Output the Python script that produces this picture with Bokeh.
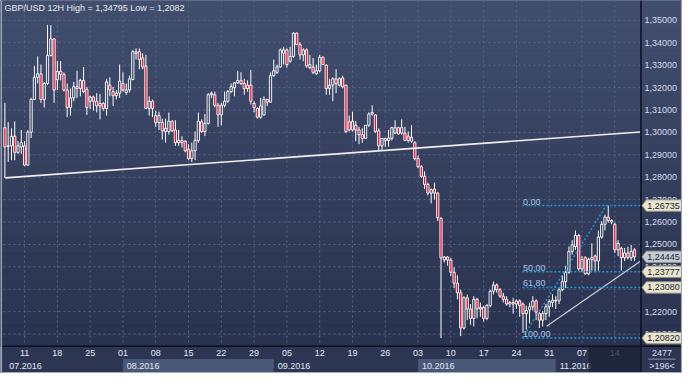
import numpy as np
from bokeh.plotting import figure
from bokeh.models import Range1d, ColumnDataSource
from bokeh.embed import file_html
from bokeh.resources import INLINE
from bokeh.core.properties import value

# ---------------- data (GBP/USD 12H) ----------------
opens = [
 1.3021,1.2936,1.2940,1.2983,1.2911,1.2935,1.2940,1.2854,1.3001,1.3147,
 1.3246,1.3261,1.3147,1.3218,1.3343,1.3417,1.3235,1.3272,1.3258,1.3189,
 1.3111,1.3154,1.3204,1.3196,1.3232,1.3192,1.3139,1.3158,1.3139,1.3118,
 1.3129,1.3107,1.3211,1.3182,1.3164,1.3175,1.3218,1.3178,1.3189,1.3236,
 1.3353,1.3360,1.3332,1.3296,1.3107,1.3139,1.3075,1.3044,1.3044,1.3004,
 1.3004,1.3050,1.3011,1.2954,1.2964,1.2961,1.2925,1.2883,1.2918,1.2964,
 1.3047,1.3004,1.3040,1.3168,1.3168,1.3121,1.3078,1.3121,1.3139,1.3182,
 1.3199,1.3221,1.3232,1.3218,1.3211,1.3211,1.3129,1.3107,1.3068,1.3078,
 1.3147,1.3135,1.3253,1.3268,1.3292,1.3353,1.3368,1.3318,1.3339,1.3443,
 1.3392,1.3346,1.3368,1.3289,1.3292,1.3261,1.3275,1.3335,1.3300,1.3196,
 1.3211,1.3239,1.3211,1.3243,1.3211,1.3047,1.3011,1.3032,1.3011,1.2990,
 1.2973,1.3032,1.3082,1.3078,1.3007,1.2940,1.2964,1.2975,1.2973,1.2997,
 1.3021,1.2997,1.2997,1.2983,1.2961,1.2954,1.2883,1.2847,1.2804,1.2768,
 1.2729,1.2747,1.2729,1.2616,1.2431,1.2444,1.2430,1.2376,1.2327,1.2284,
 1.2127,1.2262,1.2212,1.2170,1.2255,1.2212,1.2219,1.2170,1.2227,1.2291,
 1.2319,1.2298,1.2269,1.2255,1.2234,1.2241,1.2234,1.2248,1.2234,1.2191,
 1.2208,1.2222,1.2248,1.2191,1.2162,1.2191,1.2222,1.2241,1.2251,1.2248,
 1.2298,1.2334,1.2376,1.2469,1.2490,1.2540,1.2391,1.2441,1.2369,1.2433,
 1.2448,1.2426,1.2533,1.2590,1.2622,1.2600,1.2590,1.2476,1.2483,1.2441,
 1.2462,1.2441,1.2476]
highs = [
 1.3132,1.3046,1.3018,1.3049,1.2961,1.3011,1.2961,1.3011,1.3154,1.3296,
 1.3339,1.3303,1.3225,1.34795,1.3479,1.3420,1.3318,1.3318,1.3268,1.3218,
 1.3196,1.3225,1.3275,1.3239,1.3292,1.3203,1.3164,1.3164,1.3175,1.3172,
 1.3135,1.3239,1.3246,1.3203,1.3189,1.3303,1.3268,1.3218,1.3253,1.3368,
 1.3375,1.3375,1.3353,1.3346,1.3161,1.3146,1.3097,1.3092,1.3061,1.3061,
 1.3089,1.3054,1.3054,1.3011,1.2983,1.2964,1.2947,1.2954,1.3004,1.3089,
 1.3058,1.3082,1.3175,1.3182,1.3182,1.3132,1.3132,1.3182,1.3189,1.3218,
 1.3225,1.3275,1.3268,1.3239,1.3232,1.3279,1.3139,1.3111,1.3154,1.3161,
 1.3150,1.3268,1.3325,1.3303,1.3375,1.3382,1.3375,1.3382,1.3446,1.3446,
 1.3403,1.3375,1.3375,1.3346,1.3332,1.3303,1.3346,1.3339,1.3303,1.3239,
 1.3246,1.3282,1.3246,1.3253,1.3211,1.3075,1.3092,1.3050,1.3025,1.3018,
 1.3032,1.3089,1.3121,1.3082,1.3018,1.2975,1.2976,1.3011,1.3025,1.3054,
 1.3025,1.3058,1.3025,1.3004,1.3032,1.2961,1.2897,1.2854,1.2826,1.2776,
 1.2750,1.2776,1.2733,1.2622,1.2448,1.2448,1.2440,1.2398,1.2362,1.2298,
 1.2269,1.2276,1.2234,1.2269,1.2262,1.2241,1.2227,1.2234,1.2298,1.2334,
 1.2326,1.2305,1.2284,1.2269,1.2248,1.2262,1.2255,1.2255,1.2241,1.2227,
 1.2241,1.2269,1.2255,1.2198,1.2202,1.2234,1.2255,1.2277,1.2269,1.2305,
 1.2362,1.2405,1.2491,1.2519,1.2562,1.2547,1.2448,1.2448,1.2441,1.2505,
 1.2455,1.2562,1.2604,1.2633,1.26735,1.2612,1.2597,1.2519,1.2490,1.2484,
 1.2490,1.2498,1.2484]
lows = [
 1.2797,1.2868,1.2876,1.2876,1.2904,1.2904,1.2850,1.2850,1.2975,1.3144,
 1.3218,1.3132,1.3111,1.3211,1.3339,1.3132,1.3189,1.3232,1.3182,1.3068,
 1.3075,1.3139,1.3154,1.3161,1.3175,1.3078,1.3104,1.3097,1.3089,1.3058,
 1.3097,1.3075,1.3161,1.3118,1.3147,1.3154,1.3182,1.3168,1.3178,1.3232,
 1.3325,1.3282,1.3282,1.3104,1.3075,1.3068,1.3025,1.3011,1.2968,1.2954,
 1.2990,1.3001,1.2940,1.2940,1.2933,1.2911,1.2876,1.2868,1.2876,1.2954,
 1.2997,1.2983,1.3035,1.3154,1.3111,1.3025,1.3032,1.3111,1.3132,1.3175,
 1.3161,1.3218,1.3211,1.3168,1.3182,1.3125,1.3089,1.3061,1.3061,1.3075,
 1.3118,1.3132,1.3249,1.3261,1.3289,1.3303,1.3289,1.3311,1.3332,1.3389,
 1.3325,1.3318,1.3289,1.3282,1.3261,1.3258,1.3268,1.3300,1.3168,1.3168,
 1.3139,1.3175,1.3204,1.3196,1.2997,1.3004,1.3004,1.2961,1.2947,1.2954,
 1.2973,1.3025,1.3075,1.2997,1.2918,1.2918,1.2935,1.2936,1.2964,1.2993,
 1.2990,1.2990,1.2961,1.2954,1.2954,1.2875,1.2840,1.2797,1.2747,1.2719,
 1.2683,1.2701,1.2605,1.2082,1.2419,1.2405,1.2359,1.2305,1.2255,1.2091,
 1.2120,1.2162,1.2141,1.2134,1.2170,1.2177,1.2155,1.2162,1.2219,1.2277,
 1.2284,1.2262,1.2241,1.2227,1.2220,1.2191,1.2212,1.2177,1.2106,1.2120,
 1.2148,1.2205,1.2162,1.2127,1.2134,1.2162,1.2177,1.2220,1.2212,1.2234,
 1.2291,1.2305,1.2369,1.2455,1.2476,1.2383,1.2376,1.2365,1.2362,1.2383,
 1.2376,1.2383,1.2526,1.2562,1.2597,1.2590,1.2462,1.2448,1.2383,1.2426,
 1.2433,1.2426,1.2426]
closes = [
 1.2936,1.2940,1.2983,1.2911,1.2940,1.2954,1.2854,1.3001,1.3147,1.3246,
 1.3261,1.3147,1.3218,1.3343,1.3417,1.3189,1.3272,1.3258,1.3189,1.3111,
 1.3154,1.3204,1.3196,1.3232,1.3182,1.3111,1.3158,1.3139,1.3118,1.3129,
 1.3107,1.3225,1.3189,1.3164,1.3175,1.3229,1.3189,1.3189,1.3239,1.3360,
 1.3360,1.3325,1.3292,1.3107,1.3139,1.3107,1.3044,1.3075,1.3007,1.3018,
 1.3050,1.3007,1.2954,1.2964,1.2954,1.2918,1.2883,1.2918,1.2964,1.3050,
 1.3004,1.3040,1.3168,1.3175,1.3121,1.3078,1.3121,1.3139,1.3182,1.3204,
 1.3221,1.3232,1.3218,1.3196,1.3196,1.3139,1.3111,1.3068,1.3118,1.3147,
 1.3135,1.3253,1.3275,1.3292,1.3368,1.3368,1.3303,1.3339,1.3443,1.3392,
 1.3346,1.3368,1.3296,1.3303,1.3268,1.3275,1.3335,1.3303,1.3196,1.3211,
 1.3239,1.3218,1.3239,1.3204,1.3004,1.3011,1.3050,1.3011,1.2990,1.2973,
 1.3032,1.3082,1.3089,1.3004,1.2940,1.2973,1.2973,1.2964,1.3021,1.3021,
 1.2993,1.3021,1.2964,1.2964,1.2978,1.2883,1.2847,1.2804,1.2768,1.2729,
 1.2744,1.2729,1.2619,1.2440,1.2444,1.2430,1.2376,1.2327,1.2284,1.2127,
 1.2262,1.2212,1.2170,1.2255,1.2212,1.2219,1.2170,1.2227,1.2291,1.2319,
 1.2298,1.2269,1.2255,1.2234,1.2241,1.2234,1.2248,1.2227,1.2191,1.2205,
 1.2222,1.2248,1.2198,1.2162,1.2191,1.2222,1.2245,1.2251,1.2248,1.2298,
 1.2334,1.2376,1.2469,1.2498,1.2540,1.2391,1.2433,1.2369,1.2433,1.2441,
 1.2426,1.2533,1.2590,1.2622,1.2607,1.2607,1.2476,1.2505,1.2441,1.2462,
 1.2441,1.2469,1.24445]

price_ticks = [1.21, 1.22, 1.23, 1.24, 1.25, 1.26, 1.27, 1.28, 1.29, 1.30,
               1.31, 1.32, 1.33, 1.34, 1.35]
week_tick_idx = [6, 16, 26, 36, 46, 56, 66, 76, 86, 96, 106, 116, 126, 136,
                 146, 156, 166, 176, 186]
week_tick_labels = ["11", "18", "25", "01", "08", "15", "22", "29", "05", "12",
                    "19", "26", "03", "10", "17", "24", "31", "07", "14"]
month_start_idx = [-6, 36, 82, 126, 168]
month_end_idx = [36, 82, 126, 168, 212]
month_labels = ["07.2016", "08.2016", "09.2016", "10.2016", "11.2016"]
shaded_from_idx = 178

fib_pct = [0.0, 50.0, 61.8, 100.0]
fib_text = ["0,00", "50,00", "61,80", "100,00"]
fib_high = 1.26735
fib_low = 1.2082
fib_anchor_idx = [157.8, 183.4]

tag_prices = [1.26735, 1.24445, 1.23777, 1.23080, 1.20820]
tag_is_current = [False, True, False, False, False]

trend1_idx = [0.1, 193.8]
trend1_price = [1.2797, 1.3002]
trend2_idx = [165.2, 193.8]
trend2_price = [1.2135, 1.2425]

title_text = "GBP/USD 12H High = 1,34795 Low = 1,2082"
bars_total_text = "2477"
bars_shown_text = ">196<"

assert len(opens) == len(highs) == len(lows) == len(closes) == 193

# ---------------- layout helpers (reference pixel -> data) ----------------
REF_W, REF_H = 698, 389
W, H = 682, 373
def rx(px):
    return (px - 4.5) / 3.356
def ry(py):
    return 1.35 - (py - 20.7) / 2337.0
DX = 1 / 3.356      # one reference pixel in x data units
DY = 1 / 2337.0     # one reference pixel in price units

FONT = value("Liberation Sans")

p = figure(width=W, height=H, x_range=Range1d(rx(0), rx(REF_W)),
           y_range=Range1d(ry(REF_H), ry(0)), output_backend="svg",
           toolbar_location=None, x_axis_location=None, y_axis_location=None,
           min_border=0, outline_line_color=None,
           background_fill_color="#2c3652", border_fill_color="#2c3652")
p.grid.visible = False

# background gradient (chart + price panel)
top_c = np.array([0x41, 0x4e, 0x6e], dtype=float)
bot_c = np.array([0x29, 0x32, 0x4e], dtype=float)
N = 48
edges = np.linspace(0, 360.5, N + 1)
cols = []
for k in range(N):
    t = (k + 0.5) / N
    cc = np.round(top_c + (bot_c - top_c) * t).astype(int)
    cols.append("#%02x%02x%02x" % tuple(cc))
p.quad(left=rx(0), right=rx(REF_W), top=[ry(e) for e in edges[:-1]],
       bottom=[ry(e) for e in edges[1:]], fill_color=cols, line_color=cols,
       line_width=1)

# time axis background
p.quad(left=rx(0), right=rx(REF_W), top=ry(360.5), bottom=ry(REF_H),
       fill_color="#2c3653", line_color=None)
band_l = [month_start_idx[k] for k in (1, 3)]
band_r = [month_end_idx[k] for k in (1, 3)]
p.quad(left=band_l, right=band_r, top=ry(374), bottom=ry(387.5),
       fill_color="#495877", line_color=None)

# grid
grid_col = "#59658a"
p.segment(x0=rx(3), x1=rx(655), y0=price_ticks, y1=price_ticks,
          line_color=grid_col, line_dash="2 3", line_width=1)
p.segment(x0=week_tick_idx, x1=week_tick_idx, y0=ry(0), y1=ry(360),
          line_color=grid_col, line_dash="2 3", line_width=1)

# candles
o = np.array(opens); h = np.array(highs); l = np.array(lows); c = np.array(closes)
idx = np.arange(len(o))
btop = np.maximum(o, c)
bbot = np.minimum(o, c)
bear = c < o
src = ColumnDataSource(dict(x=idx, h=h, l=l, top=btop, bot=bbot))
p.segment(x0="x", x1="x", y0="h", y1="top", source=src, line_color="white", line_width=1)
p.segment(x0="x", x1="x", y0="bot", y1="l", source=src, line_color="white", line_width=1)
up = ColumnDataSource(dict(x=idx[~bear], top=btop[~bear], bot=bbot[~bear]))
dn = ColumnDataSource(dict(x=idx[bear], top=btop[bear], bot=bbot[bear]))
p.vbar(x="x", width=0.68, top="top", bottom="bot", source=up,
       fill_alpha=0, line_color="white", line_width=0.9)
p.vbar(x="x", width=0.68, top="top", bottom="bot", source=dn,
       fill_color="#e8102c", line_color="white", line_width=0.9)

# trend lines
p.line(trend1_idx, trend1_price, line_color="#eeeeee", line_width=1.6)
p.line(trend2_idx, trend2_price, line_color="#c9cbd0", line_width=1.3)

# fibonacci
fib_prices = [fib_high - v / 100.0 * (fib_high - fib_low) for v in fib_pct]
fib_col = "#1d98d6"
p.segment(x0=fib_anchor_idx[0], x1=rx(657), y0=fib_prices, y1=fib_prices,
          line_color=fib_col, line_dash="2 2", line_width=1.5)
p.line(fib_anchor_idx, [fib_low, fib_high], line_color=fib_col,
       line_dash="2 2", line_width=1.5)
p.text(x=fib_anchor_idx[0] + 0.2, y=fib_prices, text=fib_text, text_font=FONT,
       text_font_size="9px", text_color="#a9c5e6", text_baseline="bottom",
       text_align="left", y_offset=-1)

# separators
p.segment(x0=rx(655.5), x1=rx(655.5), y0=ry(0), y1=ry(REF_H),
          line_color="#0c101a", line_width=1.5)
p.segment(x0=rx(0), x1=rx(REF_W), y0=ry(360.5), y1=ry(360.5),
          line_color="#0c101a", line_width=1.5)

# price scale labels
p.text(x=rx(659), y=price_ticks,
       text=[("%.5f" % v).replace(".", ",") for v in price_ticks],
       text_font=FONT, text_font_size="9px", text_color="#d3dcea",
       text_baseline="middle", text_align="left")

# price tags
xs, ys = [], []
for t in tag_prices:
    xs.append([rx(656.5), rx(661), rx(697), rx(697), rx(661)])
    ys.append([t, t + 6 * DY, t + 6 * DY, t - 6 * DY, t - 6 * DY])
tag_fill = ["#c6cad2" if cur else "#e8e5ca" for cur in tag_is_current]
p.patches(xs, ys, fill_color=tag_fill, line_color="#8d8f86", line_width=1)
p.text(x=rx(662), y=tag_prices,
       text=[("%.5f" % v).replace(".", ",") for v in tag_prices],
       text_font=FONT, text_font_size="9px", text_color="#1a2740",
       text_baseline="middle", text_align="left")

# time axis labels
p.text(x=week_tick_idx, y=ry(367.5), text=week_tick_labels, text_font=FONT,
       text_font_size="9px", text_color="#e2e8f2", text_baseline="middle",
       text_align="center")
mx = [max(s, rx(5)) + 4 * DX for s in month_start_idx]
p.text(x=mx, y=ry(381), text=month_labels, text_font=FONT,
       text_font_size="9px", text_color="#e2e8f2", text_baseline="middle",
       text_align="left")
p.quad(left=shaded_from_idx, right=rx(655), top=ry(361.2), bottom=ry(387.5),
       fill_color="#1b2136", fill_alpha=0.78, line_color=None)

# bars counter (bottom right)
p.text(x=rx(677), y=[ry(367.5), ry(381)], text=[bars_total_text, bars_shown_text],
       text_font=FONT, text_font_size="9px", text_color="#d8e0ec",
       text_baseline="middle", text_align="center")
p.segment(x0=rx(663), x1=rx(691), y0=ry(374), y1=ry(374),
          line_color="#8a97b0", line_width=1)

# window frame edges
p.quad(left=rx(0), right=rx(1.6), top=ry(0), bottom=ry(REF_H),
       fill_color="#97a2b7", line_color=None)
p.quad(left=rx(696.4), right=rx(REF_W), top=ry(0), bottom=ry(REF_H),
       fill_color="#97a2b7", line_color=None)
p.quad(left=rx(0), right=rx(REF_W), top=ry(387.4), bottom=ry(REF_H),
       fill_color="#a3adbf", line_color=None)

# title
p.text(x=rx(4), y=ry(3), text=[title_text], text_font=FONT,
       text_font_size="9px", text_color="#e6ecf5", text_baseline="top",
       text_align="left")

open("out.html", "w").write(file_html(p, INLINE))
